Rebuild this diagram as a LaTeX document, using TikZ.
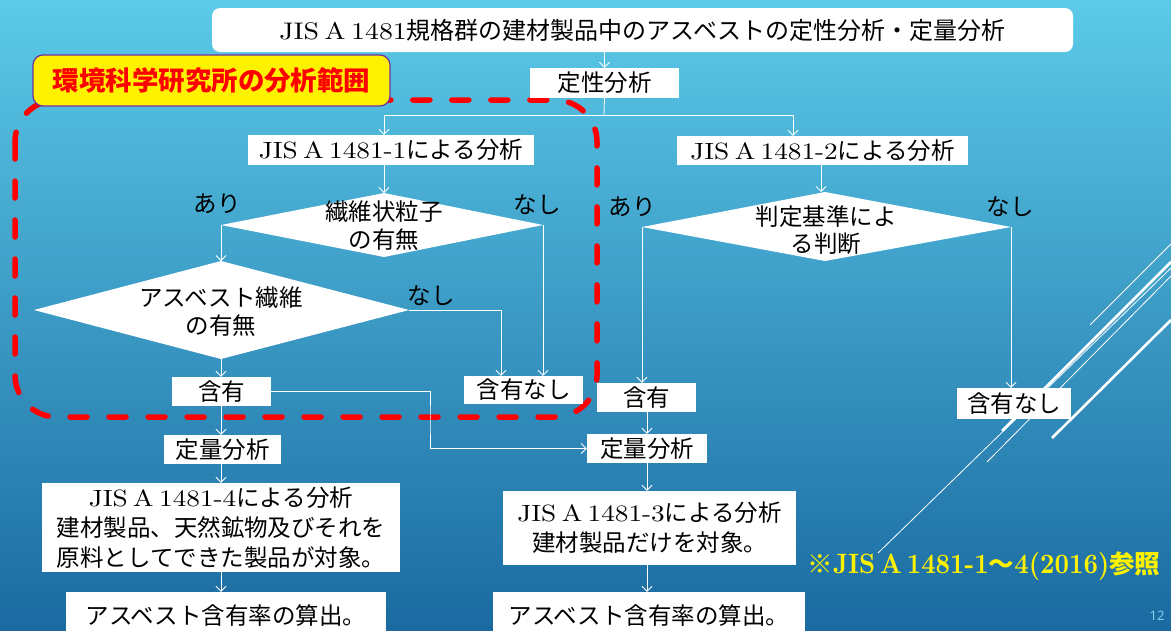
\documentclass[tikz,border=0pt]{standalone}
\usepackage{fontspec}
\usetikzlibrary{arrows.meta}
\setmainfont{lmroman10-regular.otf}[BoldFont=lmroman10-bold.otf, FakeStretch=1.16, WordSpace=0.6]
\newfontfamily\latb{lmroman10-bold.otf}[FakeStretch=0.9, WordSpace=0.5]
\newfontfamily\jp{Noto Sans CJK JP}
\newfontfamily\nsans{Noto Sans}
\newcommand\J[1]{{\jp #1}}
\newcommand\fsm{\fontsize{23.5}{30}\selectfont}
\newcommand\fsd{\fontsize{23.5}{28}\selectfont}
\definecolor{bgtop}{HTML}{5CCAE8}
\definecolor{bgmid}{HTML}{3898C4}
\definecolor{bgbot}{HTML}{1A6AA1}
\definecolor{scopeborder}{HTML}{7030A0}
\definecolor{pagenum}{HTML}{86CDEB}
\begin{document}
\begin{tikzpicture}[x=1pt,y=-1pt,
  wbox/.style={fill=white, inner sep=0pt, align=center, font=\fsm, text=black},
  dtext/.style={inner sep=0pt, align=center, font=\fsd, text=black},
  lbl/.style={inner sep=0pt, font=\jp\fsm, text=black},
  conn/.style={draw=white, line width=0.8pt},
  arr/.style={conn, -{Straight Barb[length=5pt,width=10pt,line width=0.8pt]}},
  deco/.style={draw=white, line width=0.8pt},
  decothick/.style={draw=white, line width=2.6pt},
  reddash/.style={draw=red, line width=5.5pt, dash pattern=on 17pt off 22pt, line cap=round, rounded corners=42pt}
]
\useasboundingbox (0,0) rectangle (1171,630);
% background
\shade[top color=bgtop, middle color=bgmid, bottom color=bgbot] (0,0) rectangle (1171,630);

% decorative lines
\draw[deco] (1090,325) -- (1171,244);
\draw[decothick] (1002,431) -- (1171,262);
\draw[deco] (987,462) -- (1171,276);
\draw[deco] (878,553) -- (1171,268);
\draw[decothick] (1052,438) -- (1171,320);

% red dashed scope
\draw[reddash] (15,100) rectangle (597,417);

% title and top
\node[wbox, minimum width=861, minimum height=44, rounded corners=8pt, font=\fontsize{24}{28}\selectfont] (title) at (642.5,30)
  {JIS A 1481\J{規格群の建材製品中のアスベストの定性分析・定量分析}};
\node[wbox, minimum width=149, minimum height=30] (qual) at (604.5,83) {\J{定性分析}};
\node[fill=yellow, draw=scopeborder, line width=1.2pt, rounded corners=10pt, minimum width=357, minimum height=51, inner sep=0pt,
  font=\jp\bfseries\fontsize{26.5}{30}\selectfont, text=red] (scope) at (211.5,80.5) {環境科学研究所の分析範囲};

% JIS boxes
\node[wbox, minimum width=286, minimum height=30] (jis1) at (391,150) {JIS A 1481-1\J{による分析}};
\node[wbox, minimum width=291, minimum height=29] (jis2) at (822.5,150.5) {JIS A 1481-2\J{による分析}};
\coordinate (split) at (604,115);

% diamonds
\coordinate (d1t) at (384,193); \coordinate (d1r) at (543,225);
\coordinate (d1b) at (384,257); \coordinate (d1l) at (221,225);
\fill[white] (d1t) -- (d1r) -- (d1b) -- (d1l) -- cycle;
\node[dtext] (d1) at (384,226) {\J{繊維状粒子}\\\J{の有無}};

\coordinate (d2t) at (221,261); \coordinate (d2r) at (409,310);
\coordinate (d2b) at (221,359); \coordinate (d2l) at (34,310);
\fill[white] (d2t) -- (d2r) -- (d2b) -- (d2l) -- cycle;
\node[dtext] (d2) at (221,312) {\J{アスベスト繊維}\\\J{の有無}};

\coordinate (d3t) at (825,192); \coordinate (d3r) at (1011,227);
\coordinate (d3b) at (825,261); \coordinate (d3l) at (642,227);
\fill[white] (d3t) -- (d3r) -- (d3b) -- (d3l) -- cycle;
\node[dtext, font=\fontsize{23.5}{27}\selectfont] (d3) at (826,230) {\J{判定基準によ}\\\J{る判断}};

% yes/no labels
\node[lbl] (ari1) at (217,204) {あり};
\node[lbl] (nashi1) at (537,205) {なし};
\node[lbl] (nashi2) at (431,296) {なし};
\node[lbl] (ari3) at (632,207) {あり};
\node[lbl] (nashi3) at (1010,207) {なし};

% result boxes
\node[wbox, minimum width=99, minimum height=29] (yes1) at (221.5,391.5) {\J{含有}};
\node[wbox, minimum width=119, minimum height=28] (no1) at (523.5,390) {\J{含有なし}};
\node[wbox, minimum width=99, minimum height=29] (yes2) at (646.5,397.5) {\J{含有}};
\node[wbox, minimum width=114, minimum height=31] (no2) at (1014,403.5) {\J{含有なし}};
\node[wbox, minimum width=117, minimum height=29] (quant1) at (222.5,449.5) {\J{定量分析}};
\node[wbox, minimum width=120, minimum height=29] (quant2) at (647,448.5) {\J{定量分析}};
\node[wbox, minimum width=358, minimum height=89] (jis4) at (221,527.5)
  {JIS A 1481-4\J{による分析}\\\J{建材製品、天然鉱物及びそれを}\\\J{原料としてできた製品が対象。}};
\node[wbox, minimum width=293, minimum height=74] (jis3) at (649.5,528)
  {JIS A 1481-3\J{による分析}\\\J{建材製品だけを対象。}};
\node[wbox, minimum width=320, minimum height=48] (calc1) at (226,616) {\J{アスベスト含有率の算出。}};
\node[wbox, minimum width=312, minimum height=48] (calc2) at (649,616) {\J{アスベスト含有率の算出。}};

% note and page number
\node[inner sep=0pt, text=yellow, font=\latb\fontsize{28}{30}\selectfont] (note) at (984,566)
  {{\jp\bfseries\fontsize{25.5}{30}\selectfont ※}JIS A 1481-1{\jp\bfseries\fontsize{25.5}{30}\selectfont ～}4(2016){\jp\bfseries\fontsize{25.5}{30}\selectfont 参照}};
\node[inner sep=0pt, text=pagenum, font=\nsans\fontsize{13}{15}\selectfont] (pnum) at (1157,616) {12};

% connectors
\draw[arr] (qual.north |- title.south) -- (qual.north);
\draw[conn] (qual.south) -- (split);
\draw[arr] (split) -| ([xshift=-7pt]jis1.north);
\draw[arr] (split) -| ([xshift=-29.5pt]jis2.north);
\draw[arr] (d1t |- jis1.south) -- (d1t);
\draw[arr] ([xshift=-4pt]d3t |- jis2.south) -- ([xshift=-4pt]d3t);
\draw[arr] (d1l) -- (d2t);
\draw[arr] (d1r) -- (d1r |- no1.north);
\draw[arr] (d2r) -| ([xshift=-22.5pt]no1.north);
\draw[arr] (d2b) -- (d2b |- yes1.north);
\coordinate (bend) at (430,420);
\draw[arr] (yes1.east) -| (bend) |- (quant2.west);
\draw[arr] (yes1.south -| d2b) -- (quant1.north -| d2b);
\draw[arr] (quant1.south -| d2b) -- (jis4.north -| d2b);
\draw[arr] (jis4.south -| d2b) -- (calc1.north -| d2b);
\draw[arr] (d3l) -- (d3l |- yes2.north);
\draw[arr] (d3r) -- (d3r |- no2.north);
\draw[arr] (yes2.south -| quant2) -- (quant2.north);
\draw[arr] (quant2.south) -- (quant2.south |- jis3.north);
\draw[arr] (quant2.south |- jis3.south) -- (quant2.south |- calc2.north);
\end{tikzpicture}
\end{document}
